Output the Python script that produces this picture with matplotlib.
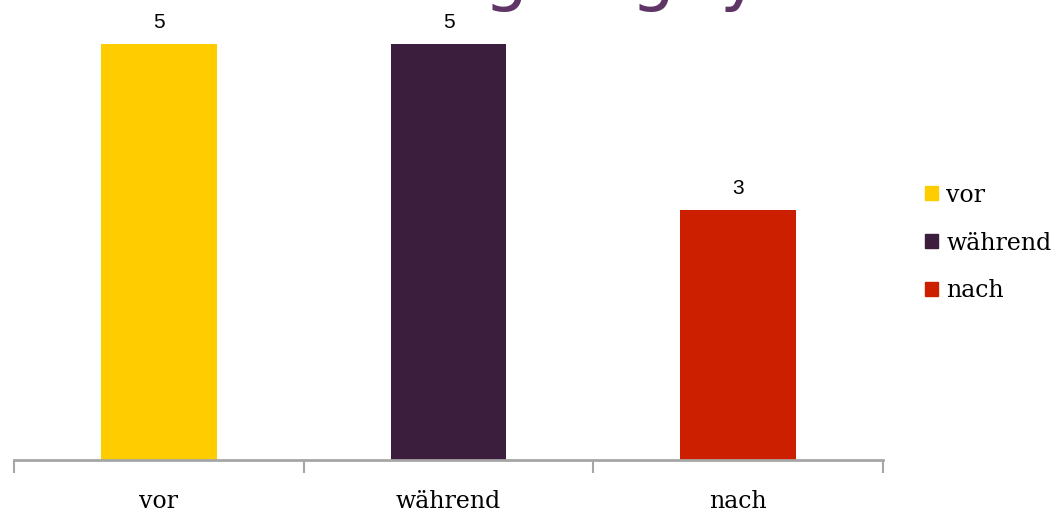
import matplotlib.pyplot as plt
from matplotlib.patches import Patch

# survey counts per phase
categories = ['vor', 'während', 'nach']
counts = [5, 5, 3]
colors = ['#ffcc00', '#3b1e3d', '#cc1f00']

W, H = 1059, 516
fig = plt.figure(figsize=(W / 100, H / 100), dpi=100)
ax = fig.add_axes([14 / W, 56 / H, (883 - 14) / W, 460 / H])

x = list(range(len(categories)))
bars = ax.bar(x, counts, width=0.4, color=colors)
ax.set_xlim(-0.5, len(categories) - 0.5)
ax.set_ylim(0, 460 / 83.2)

for b, v in zip(bars, counts):
    ax.text(b.get_x() + b.get_width() / 2, v + 0.15, str(v),
            ha='center', va='bottom', fontsize=15, family='Liberation Sans')

# category axis: grey line with ticks between groups
for s in ['top', 'right', 'left']:
    ax.spines[s].set_visible(False)
ax.spines['bottom'].set_color('#a6a6a6')
ax.spines['bottom'].set_linewidth(2)
ax.set_yticks([])
ax.set_xticks([-0.5, 0.5, 1.5, 2.5])
ax.set_xticklabels([])
ax.tick_params(axis='x', length=9, width=1.5, color='#a6a6a6')
for i, c in enumerate(categories):
    ax.text(i, -0.5, c, ha='center', va='center', fontsize=17,
            family='DejaVu Serif', clip_on=False)

handles = [Patch(color=c, label=l) for c, l in zip(colors, categories)]
fig.legend(handles=handles, loc='center left', bbox_to_anchor=(904 / W, 1 - 243 / H),
           frameon=False, prop={'family': 'DejaVu Serif', 'size': 17},
           handlelength=0.55, handleheight=0.55, handletextpad=0.35, labelspacing=1.05)

# lower part of the slide heading running into the top edge
for xp, ch in [(505, 'g'), (652, 'g'), (740, 'y')]:
    fig.text(xp / W, 1 + 2 / H, ch, ha='center', va='baseline', fontsize=50,
             color='#5f3566', family='DejaVu Sans')

fig.savefig('out.png', dpi=100)
